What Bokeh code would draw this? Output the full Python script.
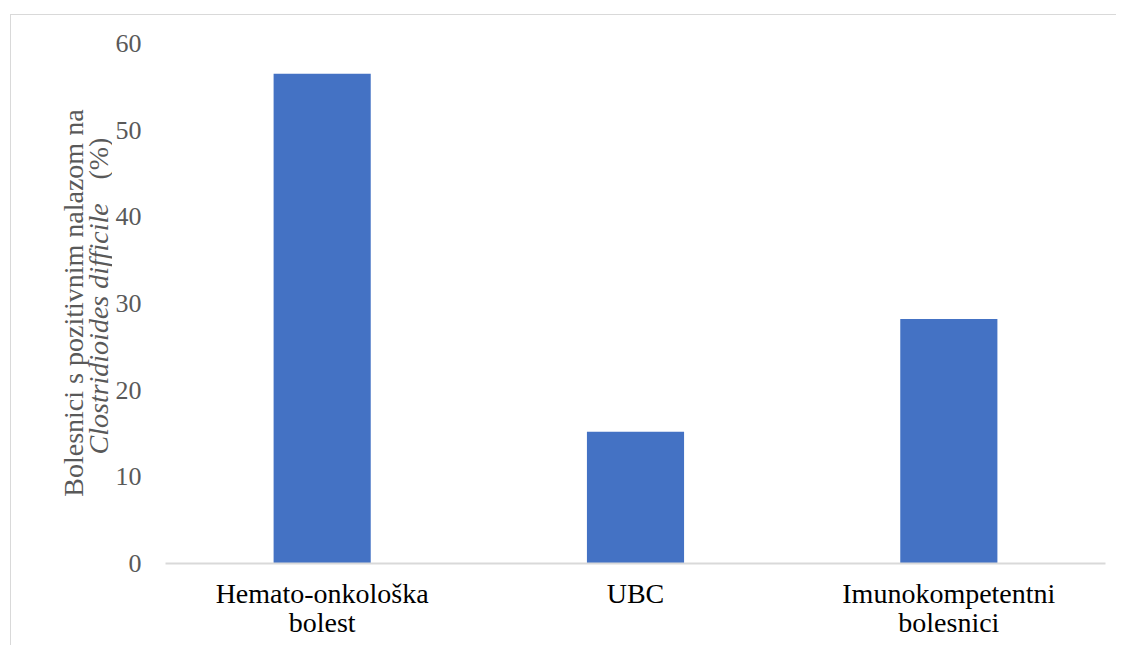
from bokeh.plotting import figure
from bokeh.layouts import row
from bokeh.models import FactorRange, Range1d, FixedTicker, Label
from bokeh.embed import file_html
from bokeh.resources import INLINE

categories = ["Hemato-onkološka\nbolest", "UBC", "Imunokompetentni\nbolesnici"]
values = [56.5, 15.2, 28.2]
y_ticks = [0, 10, 20, 30, 40, 50, 60]
title_line1 = "Bolesnici s pozitivnim nalazom na"
title_line2_italic = "Clostridioides difficile"
title_line2_unit = "(%)"

TOTAL_H = 645
TITLE_W = 112
BORDERS = dict(min_border_top=43, min_border_bottom=82)

y_range = Range1d(0, 60)

# ---- main bar chart ----
p = figure(x_range=FactorRange(*categories, range_padding=0), y_range=y_range,
           width=1116 - TITLE_W, height=TOTAL_H, output_backend="svg", toolbar_location=None,
           min_border_left=53, min_border_right=11, **BORDERS)

p.vbar(x=categories, top=values, width=0.31, color="#4472C4", line_color=None)

p.outline_line_color = None
p.xgrid.grid_line_color = None
p.ygrid.grid_line_color = None
p.background_fill_color = "white"
p.border_fill_alpha = 0

p.yaxis.ticker = FixedTicker(ticks=y_ticks)
p.yaxis.axis_line_color = None
p.yaxis.major_tick_line_color = None
p.yaxis.minor_tick_line_color = None
p.yaxis.major_tick_out = 0
p.yaxis.major_label_standoff = 24
p.yaxis.major_label_text_font = "Times"
p.yaxis.major_label_text_font_size = "26px"
p.yaxis.major_label_text_color = "#595959"

p.xaxis.axis_line_color = "#d9d9d9"
p.xaxis.axis_line_width = 2
p.xaxis.major_tick_line_color = None
p.xaxis.minor_tick_line_color = None
p.xaxis.major_tick_out = 0
p.xaxis.major_label_standoff = 14
p.xaxis.major_label_text_font = "Times"
p.xaxis.major_label_text_font_size = "28px"
p.xaxis.major_label_text_color = "#000000"
p.xaxis.major_label_text_line_height = 0.95

# ---- left strip holding the (two-line, partly italic) y-axis title ----
t = figure(width=TITLE_W, height=TOTAL_H, x_range=Range1d(0, TITLE_W), y_range=y_range,
           output_backend="svg", toolbar_location=None, min_border_left=0, min_border_right=0,
           x_axis_location=None, y_axis_location=None, **BORDERS)
t.outline_line_color = None
t.background_fill_alpha = 0
t.border_fill_alpha = 0
t.grid.visible = False

common = dict(angle=90, angle_units="deg", text_font="Times", text_font_size="28px",
              text_color="#595959", text_baseline="alphabetic")
t.add_layout(Label(x=73, y=30.05, text=title_line1, text_align="center", **common))
t.add_layout(Label(x=98, y=12.58, text=title_line2_italic, text_align="left",
                   text_font_style="italic", **common))
t.add_layout(Label(x=98, y=44.3, text=title_line2_unit, text_align="left", **common))

layout = row(t, p, spacing=0)
layout.styles = {
    "background-color": "white",
    "background-image": "linear-gradient(#d9d9d9, #d9d9d9), linear-gradient(#d9d9d9, #d9d9d9)",
    "background-size": "100% 1px, 1px 100%",
    "background-position": "10px 14px, 10px 14px",
    "background-repeat": "no-repeat",
}

open("out.html", "w").write(file_html(layout, INLINE))
